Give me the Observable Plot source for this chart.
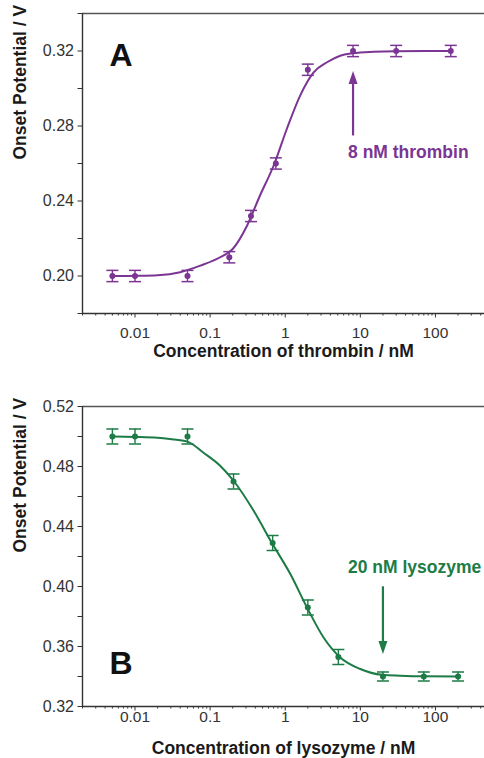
<!DOCTYPE html>
<html>
<head>
<meta charset="utf-8">
<script src="https://cdn.jsdelivr.net/npm/d3@7"></script>
<script src="https://cdn.jsdelivr.net/npm/@observablehq/plot@0.6"></script>
<style>
  html, body { margin: 0; padding: 0; background: #fff; }
  #chart svg { display: block; }
</style>
</head>
<body>
<div id="chart"></div>
<script>
// ---------- data ----------
// Panel A: thrombin
const concA = [0.005, 0.01, 0.05, 0.18, 0.35, 0.75, 2, 8, 30, 160];
const potA  = [0.200, 0.200, 0.200, 0.210, 0.232, 0.260, 0.310, 0.320, 0.320, 0.320];
const errA  = [0.003, 0.003, 0.003, 0.003, 0.003, 0.003, 0.003, 0.003, 0.003, 0.003];
const fitAx = [0.005, 0.01, 0.02, 0.04, 0.074, 0.136, 0.2, 0.31, 0.46, 0.70, 1.05, 1.58, 2.39, 3.6, 5.4, 8, 15, 30, 160];
const fitAy = [0.2000, 0.2001, 0.2004, 0.2020, 0.2055, 0.2100, 0.2144, 0.2268, 0.2428, 0.2588, 0.2784, 0.2962, 0.3086, 0.3140, 0.3175, 0.3188, 0.3196, 0.3199, 0.3200];

// Panel B: lysozyme
const concB = [0.005, 0.01, 0.05, 0.205, 0.68, 2, 5.1, 20, 70, 200];
const potB  = [0.500, 0.500, 0.500, 0.470, 0.429, 0.386, 0.353, 0.340, 0.340, 0.340];
const errB  = [0.005, 0.005, 0.005, 0.005, 0.005, 0.005, 0.005, 0.003, 0.003, 0.003];
const fitBx = [0.005, 0.01, 0.02, 0.029, 0.05, 0.081, 0.136, 0.205, 0.38, 0.66, 1.17, 1.95, 3.24, 5.4, 10, 19.5, 34, 70, 200];
const fitBy = [0.5000, 0.4997, 0.4991, 0.4983, 0.4966, 0.4893, 0.4805, 0.4705, 0.4505, 0.4293, 0.4083, 0.3860, 0.3660, 0.3527, 0.3450, 0.3411, 0.3405, 0.3401, 0.3400];

// tick labels
const xMajor = [0.01, 0.1, 1, 10, 100];
const xDecades = [0.001, 0.01, 0.1, 1, 10, 100];
const yMajorA = [0.20, 0.24, 0.28, 0.32];
const yMinorA = [0.18, 0.22, 0.26, 0.30, 0.34];
const yMajorB = [0.32, 0.36, 0.40, 0.44, 0.48, 0.52];
const yMinorB = [0.34, 0.38, 0.42, 0.46, 0.50];

// annotations
const annA = {arrowX: 8, from: 0.2747, tip: 0.3093, text: "8 nM thrombin", textY: 0.2657, letter: "A", xLabel: "Concentration of thrombin / nM"};
const annB = {arrowX: 20, from: 0.3998, tip: 0.3550, text: "20 nM lysozyme", textY: 0.4125, letter: "B", xLabel: "Concentration of lysozyme / nM"};

// ---------- helpers ----------
const xDomain = [0.002, 450];
const xMinor = xDecades.flatMap(d => [2,3,4,5,6,7,8,9].map(k => +(d * k).toPrecision(3)))
  .filter(v => v > xDomain[0] * 0.999 && v < xDomain[1]);

const capSymbol = { draw(ctx, size) { const r = Math.sqrt(size / Math.PI); ctx.moveTo(-r, 0); ctx.lineTo(r, 0); } };
const headSymbol = { draw(ctx) { ctx.moveTo(0, 0); ctx.lineTo(4.5, 13); ctx.lineTo(-4.5, 13); ctx.closePath(); } };

const font = "'Liberation Sans', Arial, Helvetica, sans-serif";
const axisColor = "#333";

function panel(o) {
  const pts = o.conc.map((x, i) => ({x, y: o.pot[i], e: o.err[i]}));
  const fit = o.fitx.map((x, i) => ({x, y: o.fity[i]}));
  const a = o.ann;
  const up = a.tip > a.from;
  return Plot.plot({
    width: 484,
    height: o.height,
    marginLeft: 82,
    marginRight: 0,
    marginTop: o.mt,
    marginBottom: o.mb,
    style: {fontFamily: font, fontSize: "16px", background: "#fff", color: axisColor, overflow: "visible"},
    x: {type: "log", domain: xDomain, label: null},
    y: {domain: o.ydomain, label: null},
    marks: [
      // frame lines
      Plot.ruleY([o.ydomain[1]], {stroke: "#555", strokeWidth: 1.3}),
      Plot.ruleX([xDomain[0]], {stroke: axisColor, strokeWidth: 1.4}),
      Plot.ruleY([o.ydomain[0]], {stroke: axisColor, strokeWidth: 1.4}),
      // axes
      Plot.axisX(xMajor, {tickSize: 4.5, tickPadding: o.xpad, tickFormat: d => String(d), fontSize: 15.5, stroke: axisColor, fill: axisColor}),
      Plot.axisX(xMinor, {tickSize: 2.5, tickFormat: () => "", stroke: axisColor}),
      Plot.axisY(o.yMajor, {tickSize: 4.5, tickPadding: 4, tickFormat: d3.format(".2f"), fontSize: 16, stroke: axisColor, fill: axisColor}),
      Plot.axisY(o.yMinor, {tickSize: 4.5, tickFormat: () => "", stroke: axisColor}),
      // axis titles
      Plot.text([o.yLabel], {text: d => d, frameAnchor: "left", dx: -62, dy: -4, rotate: -90, lineAnchor: "middle", fontSize: 17.5, fontWeight: "bold", fill: "#1a1a1a"}),
      Plot.text([a.xLabel], {text: d => d, frameAnchor: "bottom", dy: o.xlabDy, lineAnchor: "middle", fontSize: 17.5, fontWeight: "bold", fill: "#1a1a1a"}),
      // fitted curve
      Plot.line(fit, {x: "x", y: "y", curve: "monotone-x", stroke: o.color, strokeWidth: 2}),
      // error bars
      Plot.ruleX(pts, {x: "x", y1: d => d.y - d.e, y2: d => d.y + d.e, stroke: o.color, strokeWidth: 1.4}),
      Plot.dot(pts, {x: "x", y: d => d.y + d.e, symbol: capSymbol, r: 6, fill: "none", stroke: o.color, strokeWidth: 1.5}),
      Plot.dot(pts, {x: "x", y: d => d.y - d.e, symbol: capSymbol, r: 6, fill: "none", stroke: o.color, strokeWidth: 1.5}),
      // data points
      Plot.dot(pts, {x: "x", y: "y", r: 3, fill: o.color, stroke: "none"}),
      // arrow
      Plot.ruleX([a], {x: "arrowX", y1: "from", y2: d => d.tip + (up ? -0.004 : 0.004) * o.yk, stroke: o.color, strokeWidth: 2.2}),
      Plot.dot([a], {x: "arrowX", y: "tip", symbol: headSymbol, r: 5, rotate: up ? 0 : 180, fill: o.color, stroke: "none"}),
      Plot.text([a], {x: "arrowX", y: "textY", text: "text", textAnchor: "start", dx: o.textDx, fontSize: 17.5, fontWeight: "bold", fill: o.color}),
      // panel letter
      Plot.text([a.letter], {text: d => d, frameAnchor: o.letterAnchor, dx: 27, dy: o.letterDy, textAnchor: "start", lineAnchor: "bottom", fontSize: 32, fontWeight: "bold", fill: "#111"})
    ]
  });
}

const chart = document.getElementById("chart");
chart.append(panel({
  conc: concA, pot: potA, err: errA, fitx: fitAx, fity: fitAy, ann: annA,
  color: "#7b3593", height: 378, mt: 13, mb: 65, ydomain: [0.18, 0.34],
  yMajor: yMajorA, yMinor: yMinorA, yLabel: "Onset Potential / V",
  xpad: 9, xlabDy: 38, textDx: -5, letterAnchor: "top-left", letterDy: 52, yk: 1
}));
chart.append(panel({
  conc: concB, pot: potB, err: errB, fitx: fitBx, fity: fitBy, ann: annB,
  color: "#1d7b46", height: 380, mt: 28, mb: 52, ydomain: [0.32, 0.52],
  yMajor: yMajorB, yMinor: yMinorB, yLabel: "Onset Potential / V",
  xpad: 0, xlabDy: 42, textDx: -35, letterAnchor: "bottom-left", letterDy: -33, yk: 1.25
}));
</script>
</body>
</html>
